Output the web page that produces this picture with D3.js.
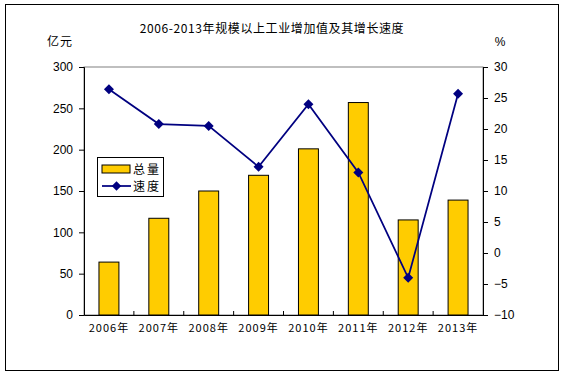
<!DOCTYPE html>
<html><head><meta charset="utf-8">
<script src="https://cdn.jsdelivr.net/npm/d3@7"></script>
<style>body{margin:0;background:#fff}svg{display:block}text{font-family:"Noto Sans CJK SC","Liberation Sans",sans-serif;fill:#000}</style>
</head><body>
<svg id="c" width="564" height="379"></svg>
<script>
const categories = ["2006年","2007年","2008年","2009年","2010年","2011年","2012年","2013年"];
const totals = [64, 117, 150, 169, 201, 257, 115, 139];
const growth = [26.4, 20.8, 20.5, 13.9, 24.0, 13.0, -4.0, 25.7];
const leftTicks = [0,50,100,150,200,250,300];
const rightTicks = [-10,-5,0,5,10,15,20,25,30];

const svg = d3.select("#c");
const L=84, R=483, T=67, B=315;
svg.append("rect").attr("x",5.5).attr("y",4.5).attr("width",553).attr("height",366).attr("fill","none").attr("stroke","#000").attr("stroke-width",1);

const x = d3.scaleBand().domain(categories).range([L,R]).paddingInner(0).paddingOuter(0);
const yL = d3.scaleLinear().domain([0,300]).range([B,T]);
const yR = d3.scaleLinear().domain([-10,30]).range([B,T]);

// plot frame
svg.append("rect").attr("x",L).attr("y",T).attr("width",R-L).attr("height",B-T).attr("fill","none").attr("stroke","#808080").attr("stroke-width",1);

// bars
const bw = x.bandwidth()*0.4;
svg.append("g").selectAll("rect").data(categories).join("rect")
  .attr("x",d=>x(d)+x.bandwidth()/2-bw/2)
  .attr("y",(d,i)=>yL(totals[i]))
  .attr("width",bw)
  .attr("height",(d,i)=>B-yL(totals[i]))
  .attr("fill","#FFCC00").attr("stroke","#000").attr("stroke-width",1);

// axes
const axL = svg.append("g").attr("transform",`translate(${L},0)`).call(d3.axisLeft(yL).tickValues(leftTicks).tickSize(5).tickPadding(6));
const axR = svg.append("g").attr("transform",`translate(${R},0)`).call(d3.axisRight(yR).tickValues(rightTicks).tickSize(5).tickPadding(6));
const axB = svg.append("g").attr("transform",`translate(0,${B})`).call(d3.axisBottom(x).tickSize(0).tickPadding(14));
[axL,axR,axB].forEach(a=>{a.select(".domain").attr("stroke","#000");a.selectAll("line").attr("stroke","#000");a.selectAll("text").style("font-family",'"Liberation Sans","Noto Sans CJK SC",sans-serif').attr("font-size",12);});
axB.selectAll("text").attr("font-size",11).style("letter-spacing","1px").style("font-family",'"Noto Sans CJK SC",sans-serif').attr("dy","0.3em");
// category boundary ticks
svg.append("g").selectAll("line").data(categories.slice(1)).join("line")
  .attr("x1",d=>x(d)).attr("x2",d=>x(d)).attr("y1",B).attr("y2",B-4).attr("stroke","#000");

// line
const line = d3.line().x((d,i)=>x(categories[i])+x.bandwidth()/2).y(d=>yR(d));
svg.append("path").datum(growth).attr("d",line).attr("fill","none").attr("stroke","#000080").attr("stroke-width",1.75);
svg.append("g").selectAll("path").data(growth).join("path")
  .attr("transform",(d,i)=>`translate(${x(categories[i])+x.bandwidth()/2},${yR(d)}) rotate(45)`)
  .attr("d",d3.symbol().type(d3.symbolSquare).size(50)).attr("fill","#000080");

// title and units
svg.append("text").attr("x",272).attr("y",33).attr("text-anchor","middle").attr("font-size",12).style("letter-spacing","0.6px").text("2006-2013年规模以上工业增加值及其增长速度");
svg.append("text").attr("x",60).attr("y",46).attr("text-anchor","middle").attr("font-size",12).style("letter-spacing","1px").text("亿元");
svg.append("text").attr("x",500).attr("y",46).attr("text-anchor","middle").attr("font-size",12).style("font-family","Liberation Sans").text("%");

// legend
const lg = svg.append("g").attr("transform","translate(97,157)");
lg.append("rect").attr("x",0.5).attr("y",0.5).attr("width",66).attr("height",39).attr("fill","#fff").attr("stroke","#000");
lg.append("rect").attr("x",5).attr("y",8).attr("width",28).attr("height",8).attr("fill","#FFCC00").attr("stroke","#000");
lg.append("text").attr("x",36).attr("y",17).attr("font-size",12).style("letter-spacing","2px").text("总量");
lg.append("line").attr("x1",5).attr("x2",34).attr("y1",29).attr("y2",29).attr("stroke","#000080").attr("stroke-width",1.75);
lg.append("path").attr("transform","translate(19.5,29) rotate(45)").attr("d",d3.symbol().type(d3.symbolSquare).size(45)).attr("fill","#000080");
lg.append("text").attr("x",36).attr("y",34).attr("font-size",12).style("letter-spacing","2px").text("速度");
</script>
</body></html>
